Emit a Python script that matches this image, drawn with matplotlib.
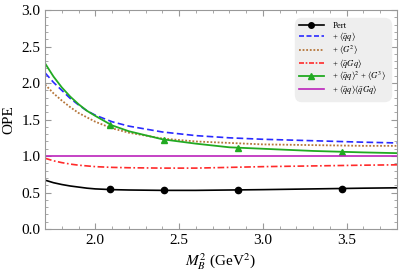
import matplotlib.pyplot as plt
import numpy as np
from matplotlib.ticker import MultipleLocator

plt.rcParams['font.family'] = ['Liberation Serif', 'DejaVu Serif']
plt.rcParams['mathtext.fontset'] = 'stix'

# values
m2 = [1.7, 1.75, 1.8, 1.85, 1.9, 1.95, 2.0, 2.1, 2.2, 2.4, 2.6, 2.8, 3.0, 3.3, 3.6, 3.8]
pert = [0.67, 0.635, 0.61, 0.59, 0.575, 0.56, 0.55, 0.54, 0.535, 0.53, 0.53, 0.535, 0.54, 0.55, 0.56, 0.565]
qq = [2.14, 2.01, 1.90, 1.79, 1.70, 1.62, 1.56, 1.47, 1.41, 1.33, 1.28, 1.25, 1.23, 1.21, 1.19, 1.18]
g2 = [1.98, 1.86, 1.76, 1.67, 1.59, 1.53, 1.47, 1.38, 1.32, 1.24, 1.20, 1.18, 1.16, 1.15, 1.14, 1.14]
qgq = [0.97, 0.935, 0.91, 0.89, 0.875, 0.865, 0.855, 0.845, 0.84, 0.835, 0.835, 0.845, 0.855, 0.865, 0.875, 0.88]
qq2_g3 = [2.27, 2.09, 1.94, 1.815, 1.71, 1.62, 1.55, 1.42, 1.34, 1.23, 1.17, 1.12, 1.10, 1.07, 1.05, 1.04]
qq_qgq = [1.0] * len(m2)

mark_x = [2.09, 2.41, 2.85, 3.47]
pert_marks = [0.545, 0.53, 0.535, 0.555]
qq2_g3_marks = [1.42, 1.22, 1.11, 1.05]

fig = plt.figure(figsize=(3.99, 2.73), dpi=100)
ax = fig.add_axes([0.113, 0.161, 0.882, 0.802])

ax.plot(m2, pert, color='black', lw=1.2)
ax.plot(mark_x, pert_marks, 'o', color='black', ms=4.5)
ax.plot(m2, qq, color='#2a2aff', lw=1.2, ls=(0, (4, 2)))
ax.plot(m2, g2, color='#b5763a', lw=1.3, ls=(0, (1, 1)))
ax.plot(m2, qgq, color='#ff2a2a', lw=1.2, ls=(0, (4, 1.5, 1, 1.5)))
ax.plot(m2, qq2_g3, color='#22aa22', lw=1.3)
ax.plot(mark_x, qq2_g3_marks, '^', color='#22aa22', ms=5)
ax.plot(m2, qq_qgq, color='#bb22bb', lw=1.2)

# legend proxies
h = [
    ax.plot([], [], color='black', lw=1.2, marker='o', ms=4)[0],
    ax.plot([], [], color='#2a2aff', lw=1.2, ls=(0, (3, 1.5)))[0],
    ax.plot([], [], color='#b5763a', lw=1.3, ls=(0, (1, 1)))[0],
    ax.plot([], [], color='#ff2a2a', lw=1.2, ls=(0, (3, 1, 1, 1)))[0],
    ax.plot([], [], color='#22aa22', lw=1.3, marker='^', ms=4)[0],
    ax.plot([], [], color='#bb22bb', lw=1.2)[0],
]
labels = ['Pert',
          r'+ $\langle\bar{q}q\rangle$',
          r'+ $\langle G^2\rangle$',
          r'+ $\langle\bar{q}Gq\rangle$',
          r'+ $\langle\bar{q}q\rangle^2$ + $\langle G^3\rangle$',
          r'+ $\langle\bar{q}q\rangle\langle\bar{q}Gq\rangle$']
leg = ax.legend(h, labels, loc='upper right', bbox_to_anchor=(0.99, 0.975),
                fontsize=6.2, handlelength=2.9, handletextpad=1.0,
                labelspacing=0.0, borderpad=0.3, frameon=True, fancybox=True)
frame = leg.get_frame()
frame.set_facecolor('#eeeeee')
frame.set_edgecolor('#eeeeee')
frame.set_alpha(1)
frame.set_boxstyle('round', pad=0.2, rounding_size=0.8)

ax.set_xlim(1.7, 3.8)
ax.set_ylim(0, 3.0)
ax.xaxis.set_major_locator(MultipleLocator(0.5))
ax.xaxis.set_minor_locator(MultipleLocator(0.1))
ax.yaxis.set_major_locator(MultipleLocator(0.5))
ax.yaxis.set_minor_locator(MultipleLocator(0.1))
ax.tick_params(which='both', direction='in', top=True, right=True,
               color='#999999', labelsize=11)
ax.tick_params(which='major', length=4)
ax.tick_params(which='minor', length=2)
for s in ax.spines.values():
    s.set_color('#999999')
    s.set_linewidth(0.8)

ax.set_xlabel(r'$M_B^2$ (GeV$^2$)', fontsize=11, labelpad=3)
ax.set_ylabel('OPE', fontsize=11, labelpad=4)

fig.savefig('out.png', dpi=100)
